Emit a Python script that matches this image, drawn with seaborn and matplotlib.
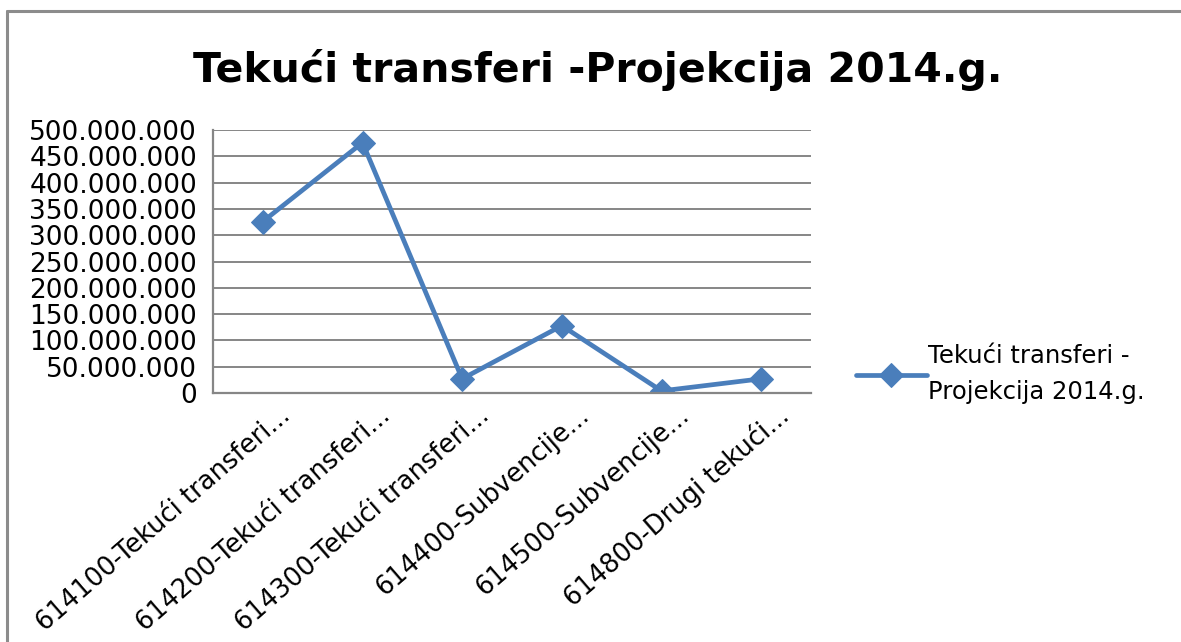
import matplotlib
matplotlib.use("Agg")
import numpy as np
import pandas as pd
import seaborn as sns
import matplotlib.pyplot as plt
from matplotlib.ticker import FuncFormatter, MultipleLocator
from matplotlib.lines import Line2D
import matplotlib.transforms as mtrans

# ---- data ----
categories = [
    "614100-Tekući transferi...",
    "614200-Tekući transferi...",
    "614300-Tekući transferi...",
    "614400-Subvencije...",
    "614500-Subvencije...",
    "614800-Drugi tekući...",
]
values = [326000000, 476000000, 27000000, 128000000, 4000000, 27000000]
series_label = "Tekući transferi -\nProjekcija 2014.g."
title_text = "Tekući transferi -Projekcija 2014.g."
y_ticks = [0, 50000000, 100000000, 150000000, 200000000, 250000000,
           300000000, 350000000, 400000000, 450000000, 500000000]

df = pd.DataFrame({"category": categories, "value": values})

sns.set_theme(style="white")
plt.rcParams["font.family"] = ["DejaVu Sans"]

W, H = 1181, 642
fig = plt.figure(figsize=(W / 100, H / 100), dpi=100)
ax = fig.add_axes([213 / W, 1 - 393 / H, (811 - 213) / W, (393 - 130) / H])

blue = "#4a7ebb"
sns.lineplot(data=df, x="category", y="value", ax=ax, sort=False,
             color=blue, linewidth=3.4, marker="D", markersize=12,
             markeredgecolor=blue, label=series_label)

ax.set_xlim(-0.5, len(categories) - 0.5)
ax.set_ylim(0, 500000000)
ax.set_yticks(y_ticks)
ax.yaxis.set_major_formatter(FuncFormatter(lambda v, p: f"{int(v):,}".replace(",", ".")))
ax.set_xlabel("")
ax.set_ylabel("")

ax.yaxis.grid(True, color="#868686", linewidth=1.4)
ax.xaxis.grid(False)
for s in ["top", "right"]:
    ax.spines[s].set_visible(False)
for s in ["left", "bottom"]:
    ax.spines[s].set_color("#868686")
    ax.spines[s].set_linewidth(1.6)
ax.set_axisbelow(True)

ax.tick_params(axis="y", length=0, pad=11.5, labelsize=19, labelcolor="black")
ax.tick_params(axis="x", length=0, pad=0, labelsize=18.5, labelcolor="black")

offset = mtrans.ScaledTranslation(24 / 100, -19 / 100, fig.dpi_scale_trans)
for lbl in ax.get_xticklabels():
    lbl.set_rotation(41)
    lbl.set_ha("right")
    lbl.set_va("center")
    lbl.set_rotation_mode("anchor")
    lbl.set_transform(lbl.get_transform() + offset)

fig.text(598 / W, 1 - 70 / H, title_text, ha="center", va="center",
         fontsize=29.5, fontweight="bold", color="black")

leg = ax.legend(loc="center left", bbox_to_anchor=(844 / W, 1 - 374 / H),
                bbox_transform=fig.transFigure, frameon=False, fontsize=17.5,
                handlelength=2.9, handletextpad=0.05, borderpad=0, labelspacing=0)
for t in leg.get_texts():
    t.set_linespacing(1.6)
    t.set_color("black")

# outer chart border (top and left visible)
fig.add_artist(Line2D([7 / W, 1], [1 - 11 / H, 1 - 11 / H], transform=fig.transFigure,
                      color="#8c8c8c", linewidth=2.2))
fig.add_artist(Line2D([7 / W, 7 / W], [0, 1 - 11 / H], transform=fig.transFigure,
                      color="#8c8c8c", linewidth=2.2))

fig.savefig("out.png", dpi=100, facecolor="white")
